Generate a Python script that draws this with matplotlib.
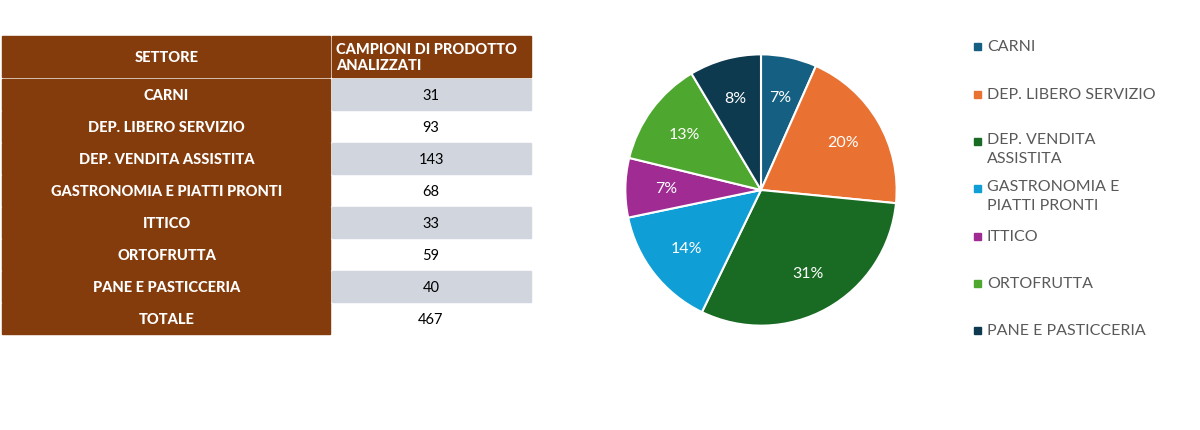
import matplotlib
matplotlib.use("Agg")
import matplotlib.pyplot as plt
from matplotlib.patches import Rectangle

plt.rcParams["font.family"] = "Lato"

header = ["SETTORE", "CAMPIONI DI PRODOTTO\nANALIZZATI"]
categories = ["CARNI", "DEP. LIBERO SERVIZIO", "DEP. VENDITA ASSISTITA",
              "GASTRONOMIA E PIATTI PRONTI", "ITTICO", "ORTOFRUTTA", "PANE E PASTICCERIA"]
values = [31, 93, 143, 68, 33, 59, 40]
pct_labels = ["7%", "20%", "31%", "14%", "7%", "13%", "8%"]
total_label = "TOTALE"
total_value = 467
legend_labels = ["CARNI", "DEP. LIBERO SERVIZIO", "DEP. VENDITA\nASSISTITA",
                 "GASTRONOMIA E\nPIATTI PRONTI", "ITTICO", "ORTOFRUTTA", "PANE E PASTICCERIA"]
colors = ["#156082", "#E97132", "#196B24", "#0F9ED5", "#A02B93", "#4EA72E", "#0E3A50"]

W, H = 1200, 431
fig = plt.figure(figsize=(12, 4.31), dpi=100)
bg = fig.add_axes([0, 0, 1, 1])
bg.set_xlim(0, W); bg.set_ylim(H, 0); bg.axis("off")

brown = "#843C0C"
gray = "#D1D5DD"
x0, x1, x2 = 2, 331, 531
bg.add_patch(Rectangle((x0, 37), x1 - x0 - 1, 41, color=brown))
bg.add_patch(Rectangle((x1 + 1, 37), x2 - x1 - 1, 41, color=brown))
bg.text((x0 + x1) / 2, 58, header[0], color="white", fontweight="heavy", fontsize=10.5, ha="center", va="center")
bg.text(x1 + 5, 58, header[1], color="white", fontweight="heavy", fontsize=10.5, ha="left", va="center", linespacing=1.2)
rows = list(zip(categories, values)) + [(total_label, total_value)]
y = 80
for i, (c, v) in enumerate(rows):
    h = 32
    bg.add_patch(Rectangle((x0, y), x1 - x0 - 1, h - 1, color=brown))
    if i % 2 == 0 and i < len(categories):
        bg.add_patch(Rectangle((x1 + 1, y), x2 - x1 - 1, h - 1, color=gray))
    bg.text((x0 + x1) / 2, y + h / 2, c, color="white", fontweight="heavy", fontsize=10.5, ha="center", va="center")
    bg.text((x1 + x2) / 2, y + h / 2, str(v), color="black", fontsize=10.5, ha="center", va="center")
    y += h

# pie
cx, cy, r = 761, 191, 137
pax = fig.add_axes([(cx - r) / W, 1 - (cy + r) / H, 2 * r / W, 2 * r / H])
wedges, texts = pax.pie(values, colors=colors, startangle=90, counterclock=False,
                        labels=pct_labels, labeldistance=0.7,
                        wedgeprops=dict(edgecolor="white", linewidth=1.5),
                        textprops=dict(color="white", fontsize=11.5, ha="center", va="center"))
for t in texts:
    t.set_ha("center"); t.set_va("center")
pax.set_xlim(-1.01, 1.01); pax.set_ylim(-1.01, 1.01)
pax.set_aspect("auto")

# legend
ly = [48, 96, 143, 190, 238, 285, 332]
for lab, col, yy in zip(legend_labels, colors, ly):
    bg.add_patch(Rectangle((974, yy - 4), 7, 7, color=col))
    if "\n" in lab:
        bg.text(987, yy - 10, lab, color="#595959", fontsize=11.5, ha="left", va="top", linespacing=1.45)
    else:
        bg.text(987, yy - 1, lab, color="#595959", fontsize=11.5, ha="left", va="center")

fig.savefig("out.png", dpi=100)
